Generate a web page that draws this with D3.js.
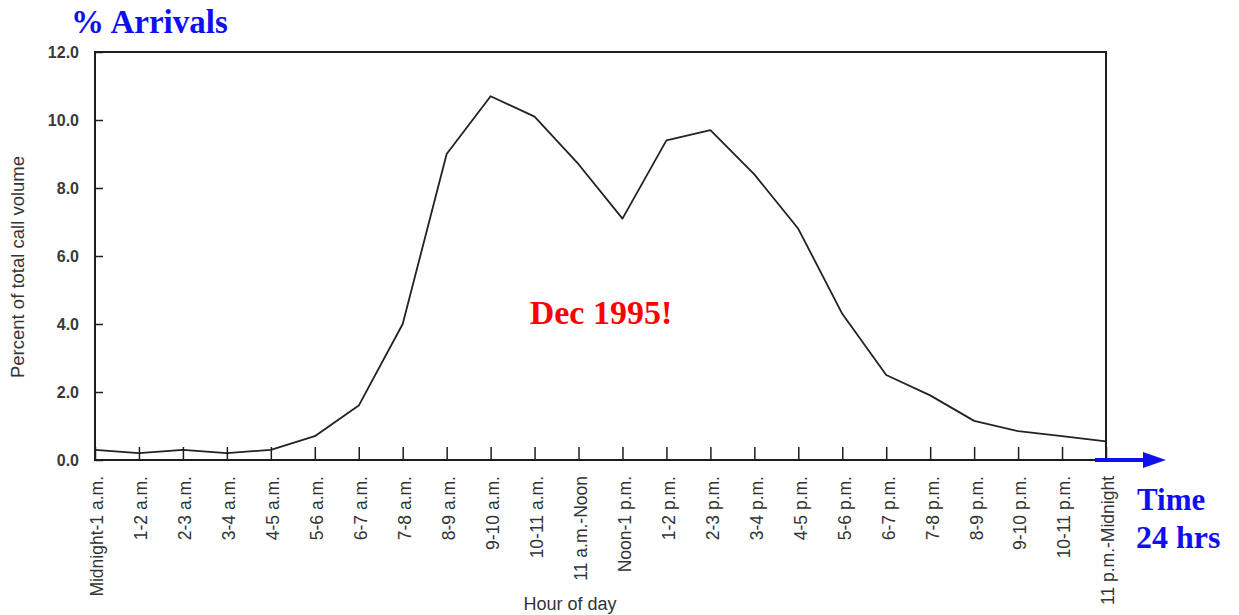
<!DOCTYPE html>
<html>
<head>
<meta charset="utf-8">
<script src="https://cdn.jsdelivr.net/npm/d3@7/dist/d3.min.js"></script>
<style>
  html, body { margin: 0; padding: 0; background: #ffffff; }
  svg { display: block; }
</style>
</head>
<body>
<svg id="chart" width="1239" height="615"></svg>
<script>
// ---- data ----
const hours = ["Midnight-1 a.m.", "1-2 a.m.", "2-3 a.m.", "3-4 a.m.", "4-5 a.m.", "5-6 a.m.",
  "6-7 a.m.", "7-8 a.m.", "8-9 a.m.", "9-10 a.m.", "10-11 a.m.", "11 a.m.-Noon",
  "Noon-1 p.m.", "1-2 p.m.", "2-3 p.m.", "3-4 p.m.", "4-5 p.m.", "5-6 p.m.",
  "6-7 p.m.", "7-8 p.m.", "8-9 p.m.", "9-10 p.m.", "10-11 p.m.", "11 p.m.-Midnight"];
const callVolume = [0.3, 0.2, 0.3, 0.2, 0.3, 0.7, 1.6, 4.0, 9.0, 10.7, 10.1, 8.7,
  7.1, 9.4, 9.7, 8.4, 6.8, 4.3, 2.5, 1.9, 1.15, 0.85, 0.7, 0.55];
const yTicks = [0, 2, 4, 6, 8, 10, 12];
const yDomain = [0, 12];
const titleText = "% Arrivals";
const yAxisTitle = "Percent of total call volume";
const xAxisTitle = "Hour of day";
const annotation = "Dec 1995!";
const timeLabel = ["Time", "24 hrs"];

(function () {
// ---- layout ----
const svg = d3.select("#chart");
const pL = 95, pR = 1106, pT = 52, pB = 460;
const ink = "#1e1e1e";
const sans = "'Liberation Sans', Arial, Helvetica, sans-serif";
const serif = "'Liberation Serif', 'Times New Roman', serif";

const x = d3.scalePoint().domain(hours).range([pL, pR]).padding(0);
const y = d3.scaleLinear().domain(yDomain).range([pB, pT]);

// y axis
const yAxis = d3.axisLeft(y).tickValues(yTicks).tickFormat(d3.format(".1f"))
  .tickSizeInner(-8).tickSizeOuter(0).tickPadding(16);
const gy = svg.append("g").attr("transform", `translate(${pL},0)`).call(yAxis);
gy.select(".domain").remove();
gy.selectAll(".tick line").attr("stroke", ink).attr("stroke-width", 1.5);
gy.selectAll(".tick text").attr("font-family", sans).attr("font-size", 16)
  .attr("font-weight", "bold").attr("fill", "#3a3a3a");

// x axis
const xAxis = d3.axisBottom(x).tickSizeInner(-13).tickSizeOuter(0);
const gx = svg.append("g").attr("transform", `translate(0,${pB})`).call(xAxis);
gx.select(".domain").remove();
gx.selectAll(".tick line").attr("stroke", ink).attr("stroke-width", 1.5);
gx.selectAll(".tick text")
  .attr("font-family", sans).attr("font-size", 17.5).attr("fill", "#333")
  .attr("transform", "rotate(-90)")
  .attr("text-anchor", "end")
  .attr("x", -16).attr("y", 0).attr("dy", "0.45em");

// frame
svg.append("rect").attr("x", pL).attr("y", pT)
  .attr("width", pR - pL).attr("height", pB - pT)
  .attr("fill", "none").attr("stroke", ink).attr("stroke-width", 2);

// line
const line = d3.line().x((d, i) => x(hours[i])).y(d => y(d));
svg.append("path").datum(callVolume)
  .attr("d", line).attr("fill", "none")
  .attr("stroke", "#222").attr("stroke-width", 1.8).attr("stroke-linejoin", "round");

// axis titles
svg.append("text").attr("transform", "translate(24,267) rotate(-90)")
  .attr("text-anchor", "middle").attr("font-family", sans).attr("font-size", 18.5)
  .attr("fill", "#333").text(yAxisTitle);
svg.append("text").attr("x", 570).attr("y", 610)
  .attr("text-anchor", "middle").attr("font-family", sans).attr("font-size", 18)
  .attr("fill", "#333").text(xAxisTitle);

// title
svg.append("text").attr("x", 71).attr("y", 33)
  .attr("font-family", serif).attr("font-weight", "bold").attr("font-size", 33)
  .attr("fill", "#1010ee").text(titleText);

// annotation
svg.append("text").attr("x", 601).attr("y", 324).attr("text-anchor", "middle")
  .attr("font-family", serif).attr("font-weight", "bold").attr("font-size", 34)
  .attr("fill", "#ff0000").text(annotation);

// time arrow
svg.append("line").attr("x1", 1095).attr("x2", 1148).attr("y1", pB).attr("y2", pB)
  .attr("stroke", "#1010ee").attr("stroke-width", 4);
svg.append("path").attr("d", `M1143,${pB - 8}L1166,${pB}L1143,${pB + 8}Z`)
  .attr("fill", "#1010ee");
svg.append("text").attr("x", 1137).attr("y", 510)
  .attr("font-family", serif).attr("font-weight", "bold").attr("font-size", 31)
  .attr("fill", "#1010ee").text(timeLabel[0]);
svg.append("text").attr("x", 1136).attr("y", 548)
  .attr("font-family", serif).attr("font-weight", "bold").attr("font-size", 32)
  .attr("fill", "#1010ee").text(timeLabel[1]);
})();
</script>
</body>
</html>
